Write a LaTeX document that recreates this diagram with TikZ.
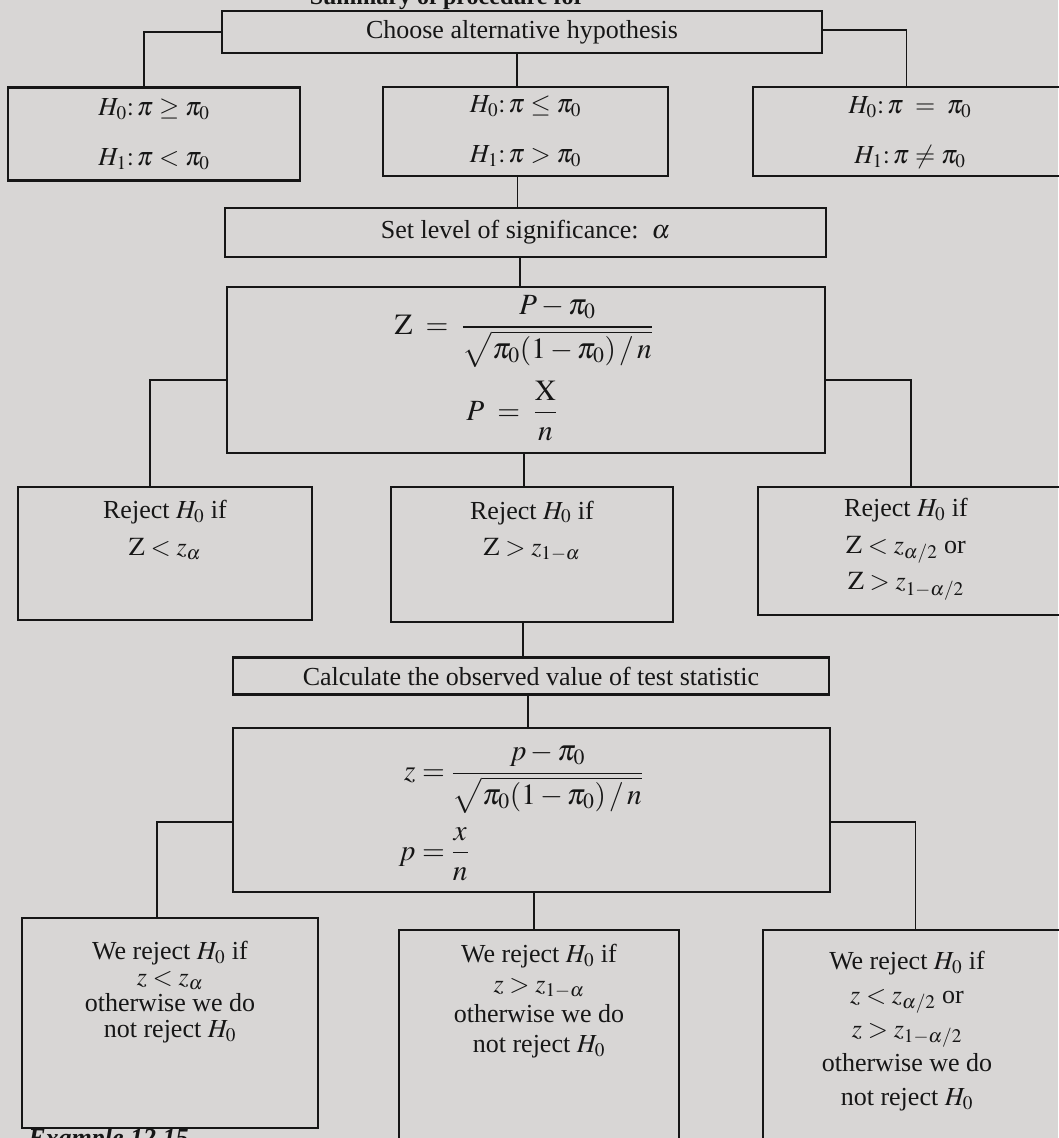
\documentclass[tikz,border=0pt]{standalone}
\usepackage{amsmath}
\usepackage{mathptmx}
\usepackage[no-math]{fontspec}
\setmainfont{Liberation Serif}
\usetikzlibrary{calc}
\definecolor{paper}{RGB}{216,214,213}
\definecolor{ink}{RGB}{22,22,22}
\tikzset{
  box/.style={draw=ink, line width=1.6pt, rectangle, inner sep=0pt, text=ink},
  conn/.style={draw=ink, line width=1.1pt},
  txt/.style={text=ink, align=center, inner sep=0pt, font=\fontsize{19.5}{24}\selectfont},
  hyp/.style={txt, font=\fontsize{19.5}{37.5}\selectfont},
  rej/.style={txt, font=\fontsize{19.5}{27.5}\selectfont},
}
\begin{document}
\begin{tikzpicture}[x=0.75pt,y=-0.75pt]
\useasboundingbox (0,0) rectangle (1058,1138);
\fill[paper] (0,0) rectangle (1058,1138);

% title (cut by the page edge)
\node[text=ink, anchor=base, inner sep=0pt, font=\fontsize{18}{20}\selectfont\bfseries] (ttl) at (447,5) {Summary of procedure for};

% boxes
\node[box, minimum width=450pt, minimum height=31.5pt, txt] (choose) at (522,32) {Choose alternative hypothesis};

\node[box, minimum width=219pt, minimum height=69.75pt, hyp] (hL) at (154,134) {$H_0{:}\,\pi \geq \pi_0$\\ $H_1{:}\,\pi < \pi_0$};
\node[box, minimum width=213.75pt, minimum height=66.75pt, hyp] (hM) at (525.5,131.5) {$H_0{:}\,\pi \leq \pi_0$\\ $H_1{:}\,\pi > \pi_0$};
\node[box, minimum width=236.25pt, minimum height=66.75pt] (hR) at (910.5,131.5) {};
\node[hyp] (hRt) at (910,133) {$H_0{:}\,\pi \;=\; \pi_0$\\ $H_1{:}\,\pi \neq \pi_0$};

\node[box, minimum width=450.75pt, minimum height=36.75pt, txt] (sig) at (525.5,232.5) {Set level of significance:\ \ $\alpha$};

\node[box, minimum width=448.5pt, minimum height=124.5pt] (Zb) at (526,370) {};
\node[txt] (Zbt) at (524,368) {\fontsize{22}{26}\selectfont
  $\begin{array}{c}
   \mathrm{Z} \;=\; \dfrac{P-\pi_0}{\sqrt{\pi_0(1-\pi_0)\,/\,n}}\\ \noalign{\vskip 10pt}
   \hspace*{-18pt}P \;=\; \dfrac{\mathrm{X}}{n}
  \end{array}$};

\node[box, minimum width=220.5pt, minimum height=99.75pt] (rL) at (165,553.5) {};
\node[rej] (rLt) at (165,530) {Reject $H_0$ if\\ $\mathrm{Z} < z_{\alpha}$};
\node[box, minimum width=211.5pt, minimum height=101.25pt] (rM) at (532,554.5) {};
\node[rej] (rMt) at (532,531) {Reject $H_0$ if\\ $\mathrm{Z} > z_{1-\alpha}$};
\node[box, minimum width=232.5pt, minimum height=96pt] (rR) at (913,551) {};
\node[rej] (rRt) at (906,549) {Reject $H_0$ if\\ $\mathrm{Z} < z_{\alpha/2}$ or\\ $\mathrm{Z} > z_{1-\alpha/2}$};

\node[box, minimum width=447pt, minimum height=27.75pt, txt] (calc) at (531,676) {Calculate the observed value of test statistic};

\node[box, minimum width=447.75pt, minimum height=123pt] (zb) at (531.5,810) {};
\node[txt] (zbt) at (521,812) {\fontsize{22}{26}\selectfont
  $\begin{array}{r@{\;=\;}l}
   z & \dfrac{p-\pi_0}{\sqrt{\pi_0(1-\pi_0)\,/\,n}}\\ \noalign{\vskip 10.5pt}
   p & \dfrac{x}{n}
  \end{array}$};

\node[box, minimum width=222pt, minimum height=157.5pt] (wL) at (170,1023) {};
\node[txt, font=\fontsize{19.5}{19.5}\selectfont] (wLt) at (170,992) {We reject $H_0$ if\\ $z < z_{\alpha}$\\ otherwise we do\\ not reject $H_0$};
\node[box, minimum width=210pt, minimum height=165pt] (wM) at (539,1040) {};
\node[txt, font=\fontsize{19.5}{22.5}\selectfont] (wMt) at (539,1001) {We reject $H_0$ if\\ $z > z_{1-\alpha}$\\ otherwise we do\\ not reject $H_0$};
\node[box, minimum width=228.75pt, minimum height=168pt] (wR) at (915.5,1042) {};
\node[txt, font=\fontsize{19.5}{25.5}\selectfont] (wRt) at (907,1031) {We reject $H_0$ if\\ $z < z_{\alpha/2}$ or\\ $z > z_{1-\alpha/2}$\\ otherwise we do\\ not reject $H_0$};

% bottom caption (cut by the page edge)
\node[text=ink, anchor=base west, inner sep=0pt, font=\fontsize{19.5}{21}\selectfont\bfseries\itshape] (ex) at (28,1146) {Example 12.15};

% connectors
\draw[conn] (choose.west) -| ([xshift=-7.5pt]hL.north);
\draw[conn] ([yshift=1.5pt]choose.east) -| ([xshift=-3pt]hR.north);
\draw[conn] ([xshift=-3.75pt]choose.south) -- ([xshift=-3.75pt]choose.south |- hM.north);
\draw[conn] ([xshift=-6pt]hM.south) -- ([xshift=-6pt]hM.south |- sig.north);
\draw[conn] ([xshift=-4pt]sig.south) -- ([xshift=-4pt]sig.south |- Zb.north);
\draw[conn] ([yshift=-7.5pt]Zb.west) -| ([xshift=-11.25pt]rL.north);
\draw[conn] ([yshift=-7.5pt]Zb.east) -| ([xshift=-1.5pt]rR.north);
\draw[conn] ([xshift=-1.5pt]Zb.south) -- ([xshift=-1.5pt]Zb.south |- rM.north);
\draw[conn] ([xshift=-6.75pt]rM.south) -- ([xshift=-6.75pt]rM.south |- calc.north);
\draw[conn] ([xshift=-2.25pt]calc.south) -- ([xshift=-2.25pt]calc.south |- zb.north);
\draw[conn] ([yshift=-9pt]zb.west) -| ([xshift=-9.75pt]wL.north);
\draw[conn] ([yshift=-9pt]zb.east) -| (wR.north);
\draw[conn] ([xshift=1.9pt]zb.south) -- ([xshift=1.9pt]zb.south |- wM.north);
\end{tikzpicture}
\end{document}
